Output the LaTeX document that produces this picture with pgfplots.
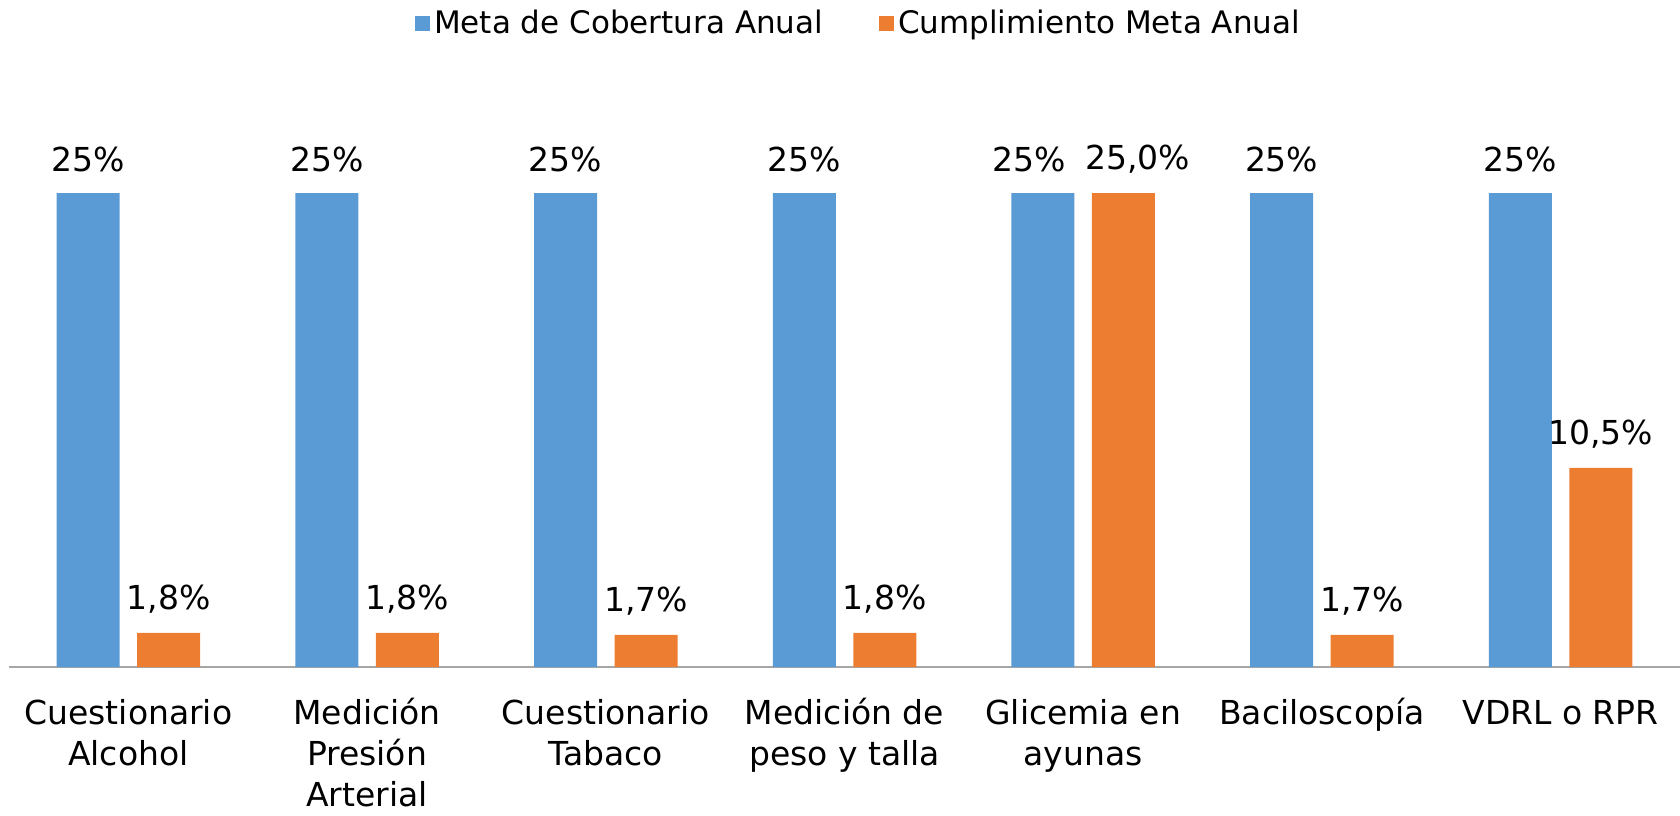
\documentclass[border=0pt]{standalone}
\usepackage{pgfplots}
\pgfplotsset{compat=1.18}
\usepackage{fontspec}
\setmainfont{DejaVu Sans}
\definecolor{cblue}{RGB}{91,155,213}
\definecolor{corange}{RGB}{237,125,49}
\definecolor{caxis}{RGB}{166,166,166}
\begin{document}
\begin{tikzpicture}
\useasboundingbox (-4.5pt,-74pt) rectangle (835.5pt,333.5pt);
\begin{axis}[
 scale only axis, width=835.5pt, height=284.4pt,
 xmin=-0.5, xmax=6.5, ymin=0, ymax=30,
 ybar=8.75pt, bar width=31.5pt,
 axis x line=bottom, axis y line=none,
 x axis line style={-, draw=caxis, line width=1pt},
 xtick={0,...,6}, major tick length=0pt,
 xticklabels={\strut Cuestionario\\Alcohol, \strut Medición\\Presión\\Arterial, \strut Cuestionario\\Tabaco, \strut Medición de\\peso y talla, \strut Glicemia en\\ayunas, \strut Baciloscopía, \strut VDRL o RPR},
 xticklabel style={align=center, anchor=north, yshift=-11pt, font=\fontsize{16.5}{20.5}\selectfont},
 /pgf/number format/assume math mode=true,
 legend style={at={(axis description cs:0.509,1.131)}, anchor=center, draw=none, legend columns=2, font=\fontsize{15.5}{18}\selectfont, /tikz/every even column/.append style={column sep=26pt}},
 visualization depends on={x \as \myx},
 every node near coord/.append style={anchor=center, yshift=17pt, font=\fontsize{16.5}{20}\selectfont, text=black},
]
\addplot[fill=cblue, draw=none,
  nodes near coords={\pgfmathprintnumber[fixed,precision=0]{\pgfplotspointmeta}\%},
  every node near coord/.append style={xshift={-7pt*(\myx==4)}},
  legend image code/.code={\fill[cblue] (0pt,-3.75pt) rectangle (7.5pt,3.75pt);}]
  coordinates {(0,25) (1,25) (2,25) (3,25) (4,25) (5,25) (6,25)};
\addplot[fill=corange, draw=none,
  nodes near coords={\pgfmathprintnumber[fixed,fixed zerofill,precision=1,use comma]{\pgfplotspointmeta}\%},
  every node near coord/.append style={xshift={7pt*(\myx==4)}},
  legend image code/.code={\fill[corange] (0pt,-3.75pt) rectangle (7.5pt,3.75pt);}]
  coordinates {(0,1.8) (1,1.8) (2,1.7) (3,1.8) (4,25.0) (5,1.7) (6,10.5)};
\legend{Meta de Cobertura Anual, Cumplimiento Meta Anual}
\end{axis}
\end{tikzpicture}
\end{document}
